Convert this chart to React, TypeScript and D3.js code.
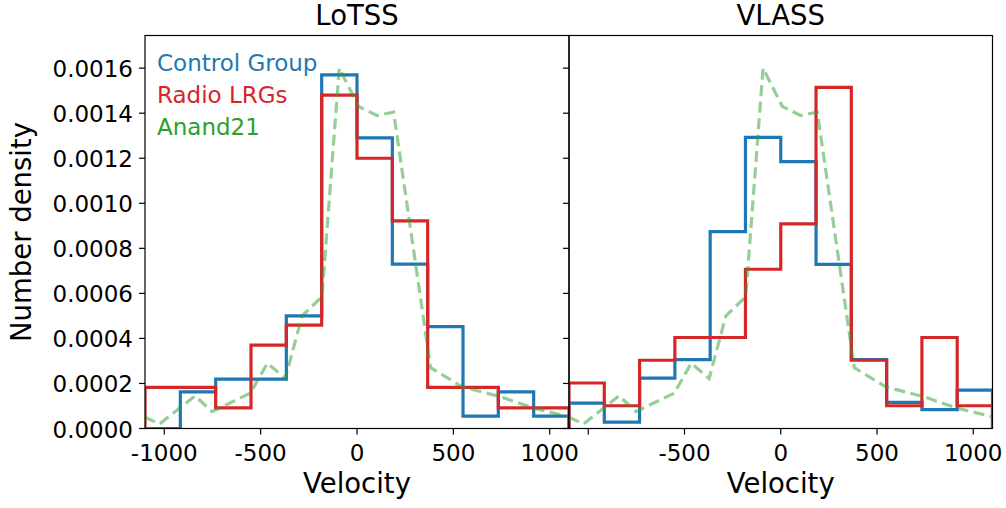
import React from 'react';
import * as d3 from 'd3';

// ---- data ----
const velocityDomain = [-1100, 1100];
const binCount = 12;
const yMax = 0.001745;

const lotssControl = [0, 0.000163, 0.000219, 0.000219, 0.0005, 0.00157, 0.00129, 0.00073, 0.000452, 0.000055, 0.000163, 0.000055];
const lotssRadio = [0.000183, 0.000183, 0.0000915, 0.00037, 0.000459, 0.00148, 0.0012, 0.000922, 0.000183, 0.000183, 0.0000915, 0.0000915];
const vlassControl = [0.000113, 0.000028, 0.000224, 0.000306, 0.000874, 0.001293, 0.001185, 0.000729, 0.000306, 0.000116, 0.000084, 0.00017];
const vlassRadio = [0.000202, 0.000101, 0.000303, 0.000404, 0.000404, 0.000707, 0.000909, 0.001515, 0.000303, 0.000101, 0.000404, 0.000101];

const anandVelocity = [-1100, -1025, -840, -752, -553, -465, -372, -285, -182, -92, 8, 104, 190, 382, 545, 740, 918, 1100];
const anandDensity = [0.00005, 0.00002, 0.000145, 0.000075, 0.000157, 0.00029, 0.000222, 0.0005, 0.000585, 0.0016, 0.00143, 0.00139, 0.001405, 0.00027, 0.000185, 0.000142, 0.00009, 0.000052];

const yTicks = [0, 0.0002, 0.0004, 0.0006, 0.0008, 0.001, 0.0012, 0.0014, 0.0016];
const xTicks = [-1000, -500, 0, 500, 1000];
const leftXTickLabels = ['-1000', '-500', '0', '500', '1000'];
const rightXTickLabels = ['', '-500', '0', '500', '1000'];

const legendLabels = ['Control Group', 'Radio LRGs', 'Anand21'];

// ---- styles ----
const BLUE = '#1f77b4';
const RED = '#d62728';
const GREEN = '#2ca02c';
const FONT = 'DejaVu Sans, sans-serif';
const TICK_FS = 23;
const LABEL_FS = 27.5;

const TOP = 35.5;
const BOTTOM = 428.5;

const yScale = d3.scaleLinear().domain([0, yMax]).range([BOTTOM, TOP]);

function stepPath(values: number[], x: d3.ScaleLinear<number, number>) {
  const [lo, hi] = velocityDomain;
  const w = (hi - lo) / binCount;
  const pts: [number, number][] = [[lo, 0]];
  values.forEach((v, i) => {
    pts.push([lo + i * w, v]);
    pts.push([lo + (i + 1) * w, v]);
  });
  pts.push([hi, 0]);
  return d3.line<[number, number]>().x(d => x(d[0])).y(d => yScale(d[1]))(pts) || '';
}

function Panel(props: {
  id: string; x0: number; x1: number; title: string;
  control: number[]; radio: number[]; tickLabels: string[];
  showYLabels: boolean; showLegend: boolean;
}) {
  const { id, x0, x1, title, control, radio, tickLabels, showYLabels, showLegend } = props;
  const x = d3.scaleLinear().domain(velocityDomain).range([x0, x1]);
  const anandLine = d3.line<number>().x(v => x(v)).y((_, i) => yScale(anandDensity[i]))(anandVelocity) || '';
  const cx = (x0 + x1) / 2;
  return (
    <g>
      <defs>
        <clipPath id={id}>
          <rect x={x0} y={TOP} width={x1 - x0} height={BOTTOM - TOP} />
        </clipPath>
      </defs>
      <g clipPath={`url(#${id})`}>
        <path d={stepPath(control, x)} fill="none" stroke={BLUE} strokeWidth={3.2} />
        <path d={stepPath(radio, x)} fill="none" stroke={RED} strokeWidth={3.2} />
        <path d={anandLine} fill="none" stroke={GREEN} strokeOpacity={0.5} strokeWidth={3.2} strokeDasharray="11,5.5" />
      </g>
      <rect x={x0} y={TOP} width={x1 - x0} height={BOTTOM - TOP} fill="none" stroke="#000" strokeWidth={1.2} />
      {yTicks.map(t => (
        <g key={t}>
          <line x1={x0 - 6} x2={x0} y1={yScale(t)} y2={yScale(t)} stroke="#000" strokeWidth={1.2} />
          {showYLabels && (
            <text x={x0 - 12} y={yScale(t) + 1} textAnchor="end" dominantBaseline="central" fontSize={TICK_FS} fontFamily={FONT}>
              {d3.format('.4f')(t)}
            </text>
          )}
        </g>
      ))}
      {xTicks.map((t, i) => (
        <g key={t}>
          <line x1={x(t)} x2={x(t)} y1={BOTTOM} y2={BOTTOM + 6} stroke="#000" strokeWidth={1.2} />
          <text x={x(t)} y={461} textAnchor="middle" fontSize={TICK_FS} fontFamily={FONT}>{tickLabels[i]}</text>
        </g>
      ))}
      <text x={cx} y={25} textAnchor="middle" fontSize={LABEL_FS} fontFamily={FONT}>{title}</text>
      <text x={cx} y={493} textAnchor="middle" fontSize={LABEL_FS} fontFamily={FONT}>Velocity</text>
      {showLegend && legendLabels.map((l, i) => (
        <text key={l} x={x0 + 12} y={71 + i * 32} fontSize={TICK_FS} fontFamily={FONT} fill={[BLUE, RED, GREEN][i]}>{l}</text>
      ))}
    </g>
  );
}

export default function App() {
  return (
    <svg width={1006} height={508} style={{ position: 'absolute', left: 0, top: 0, background: '#fff' }}>
      <rect width={1006} height={508} fill="#fff" />
      <Panel id="clipL" x0={145} x1={569} title="LoTSS" control={lotssControl} radio={lotssRadio}
        tickLabels={leftXTickLabels} showYLabels={true} showLegend={true} />
      <Panel id="clipR" x0={569} x1={992.5} title="VLASS" control={vlassControl} radio={vlassRadio}
        tickLabels={rightXTickLabels} showYLabels={false} showLegend={false} />
      <text transform={`translate(31,232) rotate(-90)`} textAnchor="middle" fontSize={LABEL_FS} fontFamily={FONT}>Number density</text>
    </svg>
  );
}
